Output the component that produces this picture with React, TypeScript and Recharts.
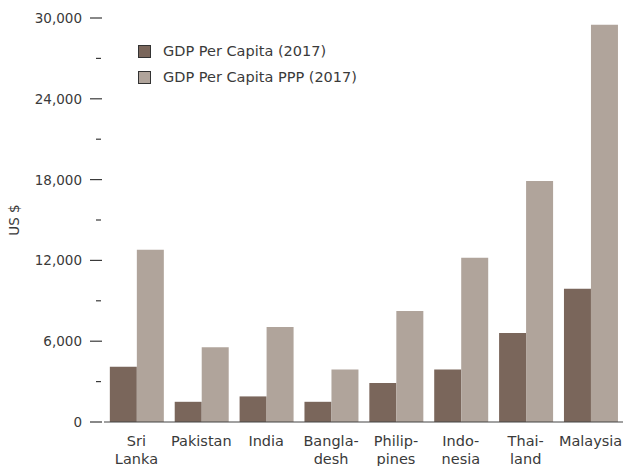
import { BarChart, Bar, XAxis, YAxis } from 'recharts';

const countries = [
  'Sri\nLanka',
  'Pakistan',
  'India',
  'Bangla-\ndesh',
  'Philip-\npines',
  'Indo-\nnesia',
  'Thai-\nland',
  'Malaysia',
];
const gdpPerCapita = [4100, 1500, 1900, 1500, 2900, 3900, 6600, 9900];
const gdpPerCapitaPpp = [12800, 5550, 7050, 3900, 8250, 12200, 17900, 29500];
const yTicks = [0, 3000, 6000, 9000, 12000, 15000, 18000, 21000, 24000, 27000, 30000];

const DARK = '#7a665b';
const LIGHT = '#b0a49b';
const TEXT = '#3a3a3a';
const FONT = '"DejaVu Sans", sans-serif';

const data = countries.map((name, i) => ({
  name,
  gdp: gdpPerCapita[i],
  ppp: gdpPerCapitaPpp[i],
}));

const series = [
  { key: 'gdp', label: 'GDP Per Capita (2017)', color: DARK },
  { key: 'ppp', label: 'GDP Per Capita PPP (2017)', color: LIGHT },
];

function YTick({ y, payload }: any) {
  const v = payload.value as number;
  const major = v % 6000 === 0;
  if (!major) {
    return <line x1={96} x2={101} y1={y} y2={y} stroke={TEXT} strokeWidth={1.2} />;
  }
  return (
    <g>
      <text x={82} y={y} dy={5} textAnchor="end" fontSize={13.5} fill={TEXT} fontFamily={FONT}>
        {v.toLocaleString('en-US')}
      </text>
      <line x1={90} x2={102} y1={y} y2={y} stroke={TEXT} strokeWidth={1.2} />
    </g>
  );
}

function XTick({ x, y, payload }: any) {
  const lines = String(payload.value).split('\n');
  return (
    <text x={x} y={y} textAnchor="middle" fontSize={14.5} fill={TEXT} fontFamily={FONT}>
      {lines.map((l, i) => (
        <tspan key={i} x={x} dy={i === 0 ? 16 : 18}>
          {l}
        </tspan>
      ))}
    </text>
  );
}

function LegendBox() {
  return (
    <div
      style={{
        position: 'absolute',
        top: 38,
        left: 138,
        fontFamily: FONT,
        fontSize: 14.5,
        color: TEXT,
      }}
    >
      {series.map((s) => (
        <div key={s.key} style={{ display: 'flex', alignItems: 'center', height: 26 }}>
          <span
            style={{
              display: 'inline-block',
              width: 11,
              height: 11,
              background: s.color,
              border: '1px solid #333',
              marginRight: 12,
            }}
          />
          {s.label}
        </div>
      ))}
    </div>
  );
}

export default function App() {
  return (
    <div style={{ position: 'absolute', top: 0, left: 0, width: 629, height: 466, background: '#fff' }}>
      <BarChart
        width={629}
        height={466}
        data={data}
        margin={{ top: 18, right: 6, bottom: 0, left: 0 }}
        barCategoryGap="9%"
        barGap={0}
      >
        <XAxis
          dataKey="name"
          height={44}
          tickLine={false}
          axisLine={{ stroke: '#444', strokeWidth: 1.2 }}
          tick={<XTick />}
          interval={0}
        />
        <YAxis
          width={104}
          domain={[0, 30000]}
          ticks={yTicks}
          interval={0}
          tickLine={false}
          axisLine={false}
          tick={<YTick />}
          label={{
            value: 'US $',
            angle: -90,
            position: 'insideLeft',
            offset: 14,
            style: { fontFamily: FONT, fontSize: 13.5, fill: TEXT, textAnchor: 'middle' },
          }}
        />
        {series.map((s) => (
          <Bar key={s.key} dataKey={s.key} name={s.label} fill={s.color} isAnimationActive={false} />
        ))}
      </BarChart>
      <LegendBox />
    </div>
  );
}
